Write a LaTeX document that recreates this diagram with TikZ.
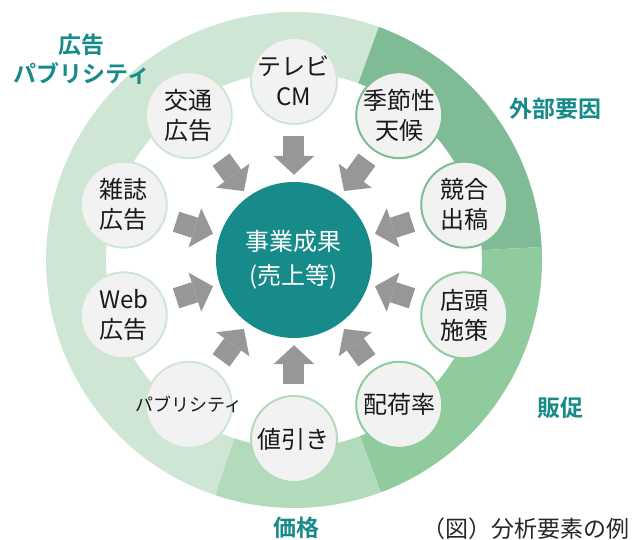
\documentclass[tikz,border=0pt]{standalone}
\usepackage{fontspec}
\setmainfont{Noto Sans CJK JP}[BoldFont={Noto Sans CJK JP Bold}]
\usetikzlibrary{arrows.meta}
\definecolor{ringA}{HTML}{CFE6D4}
\definecolor{ringB}{HTML}{7FBB95}
\definecolor{ringC}{HTML}{8FCB9D}
\definecolor{ringD}{HTML}{B2DBBC}
\definecolor{teal1}{HTML}{178A8A}
\definecolor{agray}{HTML}{979797}
\definecolor{cfill}{HTML}{F2F2F2}
\newcommand\ringsector[3]{\fill[#1] (#2:248) arc[start angle=#2,end angle=#3,radius=248] -- (#3:188) arc[start angle=#3,end angle=#2,radius=188] -- cycle;}
\begin{document}
\begin{tikzpicture}[x=1pt,y=1pt,
 factor/.style={circle, minimum size=86pt, inner sep=0pt, fill=cfill, line width=2pt},
 ftext/.style={align=center, font=\fontsize{24}{30}\selectfont, text=black!90},
 grp/.style={font=\fontsize{23}{29}\selectfont\bfseries, text=teal1, align=center},
 blockarrow/.style={draw=agray, line width=21pt, -{Triangle[width=41pt,length=19pt,line width=0pt]}, shorten <=11pt, shorten >=7pt}]
\useasboundingbox (-294,260) rectangle (338,-280);
% ring sectors
\ringsector{ringA}{70}{251.5}
\ringsector{ringB}{3}{70}
\ringsector{ringC}{-69.5}{3}
\ringsector{ringD}{-108.5}{-69.5}
% core
\node[circle, minimum size=156pt, fill=teal1, inner sep=0pt] (core) at (0,0) {};
\node[align=center, text=white, font=\fontsize{24}{34}\selectfont] (coretext) at (0,0) {事業成果\\(売上等)};
% factor circles
\node[factor, draw=ringA] (tv) at (90:179) {};
\node[factor, draw=ringA] (kotsu) at (126:179) {};
\node[factor, draw=ringA] (zasshi) at (162:179) {};
\node[factor, draw=ringA] (web) at (198:179) {};
\node[factor, draw=ringA] (pub) at (234:179) {};
\node[factor, draw=ringD] (nebiki) at (270:179) {};
\node[factor, draw=ringC] (haika) at (306:179) {};
\node[factor, draw=ringC] (tento) at (342:179) {};
\node[factor, draw=ringB] (kyogo) at (18:179) {};
\node[factor, draw=ringB] (kisetsu) at (54:179) {};
% texts
\node[ftext] (tvt) at (tv) {テレビ\\CM};
\node[ftext] (kotsut) at (kotsu) {交通\\広告};
\node[ftext] (zasshit) at (zasshi) {雑誌\\広告};
\node[ftext] (webt) at (web) {Web\\広告};
\node[ftext, font=\fontsize{18}{22}\selectfont] (pubt) at (pub) {パブリシティ};
\node[ftext] (nebikit) at (nebiki) {値引き};
\node[ftext] (haikat) at (haika) {配荷率};
\node[ftext] (tentot) at (tento) {店頭\\施策};
\node[ftext] (kyogot) at (kyogo) {競合\\出稿};
\node[ftext] (kisetsut) at (kisetsu) {季節性\\天候};
% arrows
\foreach \n in {tv,kotsu,zasshi,web,pub,nebiki,haika,tento,kyogo,kisetsu}
  \draw[blockarrow] (\n) -- (core);
% group labels
\node[grp] (g1) at (-212,201) {広告\\パブリシティ};
\node[grp] (g2) at (261,151) {外部要因};
\node[grp] (g3) at (266,-148) {販促};
\node[grp, inner sep=0pt] (g4) at (3,-268) {価格};
\node[anchor=west, font=\fontsize{23}{27}\selectfont, text=black!85, inner sep=0pt] (cap) at (128,-268.5) {（図）分析要素の例};
\end{tikzpicture}
\end{document}
